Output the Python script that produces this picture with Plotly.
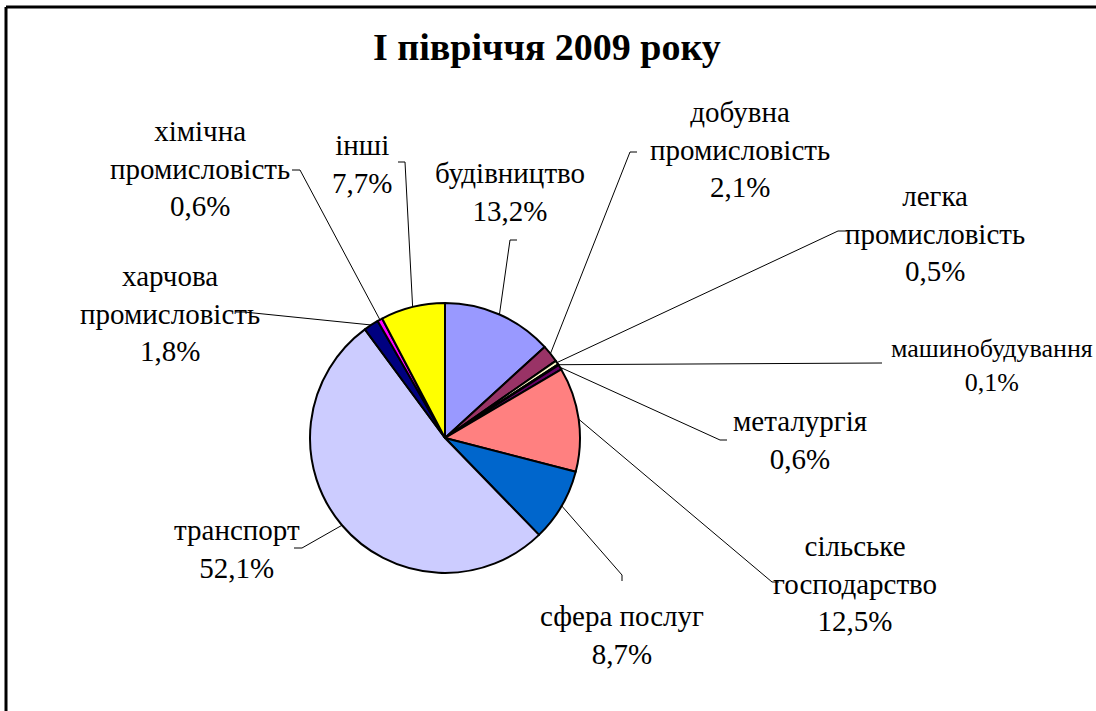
import math
import plotly.graph_objects as go

W, H = 1096, 711

# ---- data ----
categories = ["будівництво", "добувна промисловість", "легка промисловість",
              "машинобудування", "металургія", "сільське господарство",
              "сфера послуг", "транспорт", "харчова промисловість",
              "хімічна промисловість", "інші"]
values = [13.2, 2.1, 0.5, 0.1, 0.6, 12.5, 8.7, 52.1, 1.8, 0.6, 7.7]
label_texts = ["будівництво<br>13,2%", "добувна<br>промисловість<br>2,1%",
               "легка<br>промисловість<br>0,5%", "машинобудування<br>0,1%",
               "металургія<br>0,6%", "сільське<br>господарство<br>12,5%",
               "сфера послуг<br>8,7%", "транспорт<br>52,1%",
               "харчова<br>промисловість<br>1,8%", "хімічна<br>промисловість<br>0,6%",
               "інші<br>7,7%"]
title_text = "І півріччя 2009 року"

# ---- styles / layout ----
colors = ["#9999FF", "#993366", "#FFFFCC", "#CCFFFF", "#660066", "#FF8080",
          "#0066CC", "#CCCCFF", "#000080", "#FF00FF", "#FFFF00"]
CX, CY, R = 445, 438, 135  # pie centre / radius in px
# label centre positions (px), font size, leader elbow and tick end (px)
label_pos = [(510, 192), (740, 150), (935, 234), (992, 365), (800, 440),
             (855, 583), (622, 635), (237, 549), (170, 313), (200, 168), (362, 164)]
label_size = [29, 29, 29, 26, 29, 29, 29, 29, 29, 29, 29]
leader = [((510, 240), (517, 240)), ((630, 152), (637, 152)), ((838, 231), (847, 231)),
          ((882, 363), (882, 363)), ((720, 440), (727, 440)), ((772, 582), (779, 582)),
          ((622, 575), (622, 581)), ((302, 548), (294, 548)), ((244, 312), (236, 312)),
          ((300, 170), (292, 170)), ((405, 162), (398, 162))]
FONT = "Liberation Serif, Times New Roman, serif"


def px(x):
    return x / W


def py(y):
    return 1 - y / H


fig = go.Figure(go.Pie(
    labels=categories, values=values, sort=False, direction="clockwise",
    rotation=0, textinfo="none", hoverinfo="label+percent",
    marker=dict(colors=colors, line=dict(color="black", width=2)),
    domain=dict(x=[px(CX - R), px(CX + R)], y=[py(CY + R), py(CY - R)]),
    showlegend=False,
))

total = sum(values)
shapes = []
annotations = []
cum = 0.0
for i, v in enumerate(values):
    mid = (cum + v / 2) / total * 2 * math.pi
    cum += v
    ex = CX + R * math.sin(mid)
    ey = CY - R * math.cos(mid)
    (bx, by), (tx, ty) = leader[i]
    path = f"M {px(ex)},{py(ey)} L {px(bx)},{py(by)} L {px(tx)},{py(ty)}"
    shapes.append(dict(type="path", xref="paper", yref="paper", path=path,
                       line=dict(color="black", width=1)))
    lx, ly = label_pos[i]
    annotations.append(dict(x=px(lx), y=py(ly), xref="paper", yref="paper",
                            text=label_texts[i], showarrow=False,
                            xanchor="center", yanchor="middle",
                            font=dict(family=FONT, size=label_size[i], color="black")))

annotations.append(dict(x=px(547), y=py(47), xref="paper", yref="paper",
                        text=f"<b>{title_text}</b>", showarrow=False,
                        xanchor="center", yanchor="middle",
                        font=dict(family=FONT, size=38, color="black")))

# outer frame (top and left edges visible; right/bottom run off the page)
shapes.append(dict(type="line", xref="paper", yref="paper",
                   x0=px(6), y0=py(7), x1=1.0, y1=py(7),
                   line=dict(color="black", width=3)))
shapes.append(dict(type="line", xref="paper", yref="paper",
                   x0=px(6), y0=py(7), x1=px(6), y1=0.0,
                   line=dict(color="black", width=3)))

fig.update_layout(
    width=W, height=H, margin=dict(l=0, r=0, t=0, b=0),
    paper_bgcolor="white", plot_bgcolor="white",
    shapes=shapes, annotations=annotations,
)

fig.write_html("out.html", config={"displayModeBar": False},
               post_script="document.body.style.margin='0';document.body.style.overflow='hidden';")
